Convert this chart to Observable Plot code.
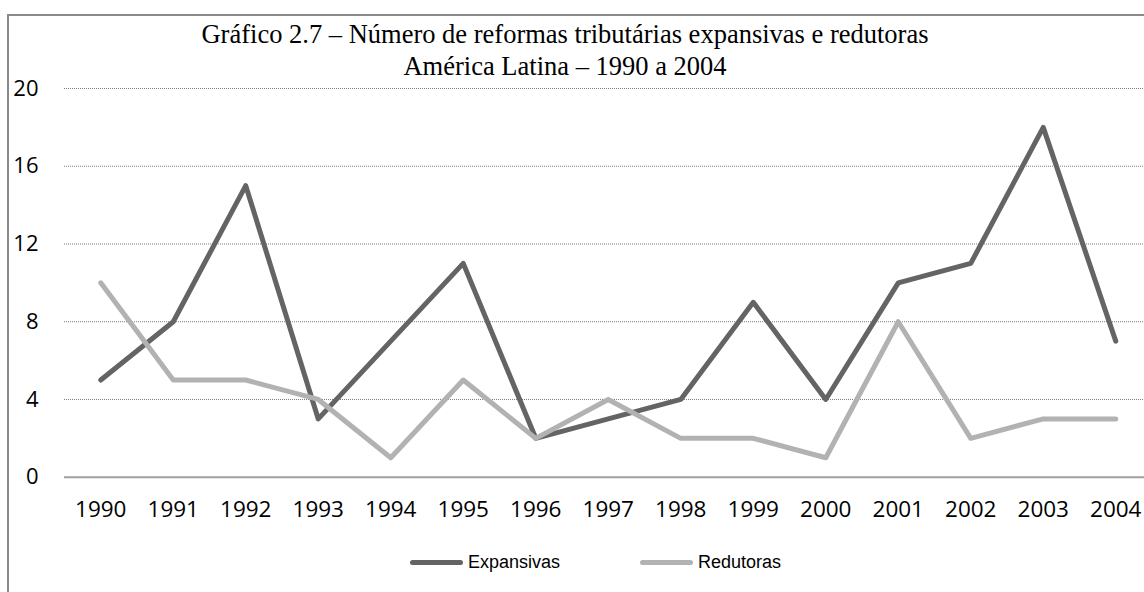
<!DOCTYPE html>
<html>
<head>
<meta charset="utf-8">
<script src="https://cdn.jsdelivr.net/npm/d3@7"></script>
<script src="https://cdn.jsdelivr.net/npm/@observablehq/plot@0.6"></script>
<style>
  html, body { margin: 0; padding: 0; background: #fff; }
  #wrap { position: relative; width: 1144px; height: 592px; overflow: hidden; background: #fff; }
  #frame { position: absolute; left: 7px; top: 14px; width: 1200px; height: 700px; border: 2px solid #8a8a8a; box-sizing: border-box; }
  #chart { position: absolute; left: 0; top: 0; }
  #title { position: absolute; left: 65px; width: 1000px; top: 18px; text-align: center;
           font-family: "Liberation Serif", "Times New Roman", serif; font-size: 26.5px; line-height: 32px; color: #000; white-space: nowrap; }
  #legend { position: absolute; top: 550px; left: 0; width: 1144px; height: 24px; font-family: "Liberation Sans", Arial, sans-serif; font-size: 18px; color: #000; }
  .item { position: absolute; display: flex; align-items: center; height: 24px; }
  .sw { display: inline-block; width: 53px; height: 5px; border-radius: 3px; margin-right: 5px; }
</style>
</head>
<body>
<div id="wrap">
  <div id="frame"></div>
  <div id="chart"></div>
  <div id="title"></div>
  <div id="legend"></div>
</div>
<script>
const titleLines = ["Gráfico 2.7 – Número de reformas tributárias expansivas e redutoras", "América Latina – 1990 a 2004"];
const years = [1990, 1991, 1992, 1993, 1994, 1995, 1996, 1997, 1998, 1999, 2000, 2001, 2002, 2003, 2004];
const expansivas = [5, 8, 15, 3, 7, 11, 2, 3, 4, 9, 4, 10, 11, 18, 7];
const redutoras = [10, 5, 5, 4, 1, 5, 2, 4, 2, 2, 1, 8, 2, 3, 3];
const seriesNames = ["Expansivas", "Redutoras"];
const seriesColors = ["#646464", "#b2b2b2"];
const yTicks = [0, 4, 8, 12, 16, 20];
const gridTicks = [4, 8, 12, 16, 20];

const rows = [];
years.forEach((yr, i) => {
  rows.push({year: yr, value: expansivas[i], series: seriesNames[0]});
  rows.push({year: yr, value: redutoras[i], series: seriesNames[1]});
});

const chart = Plot.plot({
  width: 1144,
  height: 592,
  marginLeft: 64,
  marginRight: 0,
  marginTop: 88,
  marginBottom: 115,
  style: {background: "transparent", fontFamily: "'Open Sans', sans-serif"},
  x: {type: "linear", domain: [1989.5, 2004.5], range: [64, 1151.5]},
  y: {domain: [0, 20], range: [476.7, 88]},
  color: {domain: seriesNames, range: seriesColors},
  marks: [
    Plot.ruleY(gridTicks, {stroke: "#7a7a7a", strokeWidth: 1, strokeDasharray: "1,1"}),
    Plot.ruleY([0], {stroke: "#a0a0a0", strokeWidth: 2}),
    Plot.axisY({ticks: yTicks, tickSize: 0, tickPadding: 26, fontSize: 22, fill: "#000", textAnchor: "end", label: null}),
    Plot.axisX({ticks: years, tickFormat: d => String(d), tickSize: 0, tickPadding: 24, fontSize: 22.5, fill: "#000", label: null}),
    Plot.lineY(rows, {x: "year", y: "value", z: "series", stroke: "series", strokeWidth: 5, strokeLinecap: "round", strokeLinejoin: "round"})
  ]
});
document.getElementById("chart").appendChild(chart);

const t = document.getElementById("title");
titleLines.forEach(s => { const d = document.createElement("div"); d.textContent = s; t.appendChild(d); });

const lg = document.getElementById("legend");
const lefts = [410, 640];
seriesNames.forEach((n, i) => {
  const it = document.createElement("div");
  it.className = "item";
  it.style.left = lefts[i] + "px";
  const sw = document.createElement("span");
  sw.className = "sw";
  sw.style.background = seriesColors[i];
  const tx = document.createElement("span");
  tx.textContent = n;
  it.appendChild(sw); it.appendChild(tx);
  lg.appendChild(it);
});
</script>
</body>
</html>
